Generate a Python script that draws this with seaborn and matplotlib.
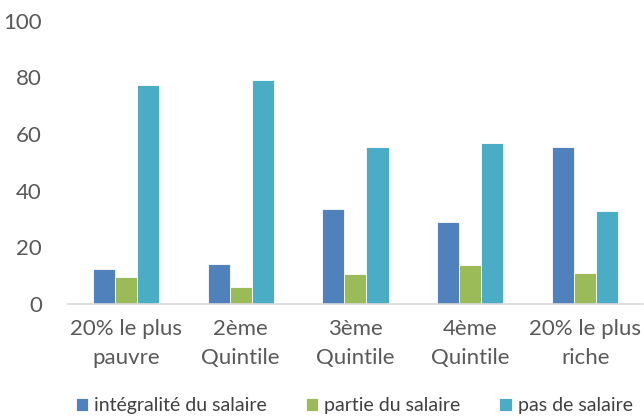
import pandas as pd
import seaborn as sns
import matplotlib.pyplot as plt

# Data
categories = ['20% le plus\npauvre', '2ème\nQuintile', '3ème\nQuintile', '4ème\nQuintile', '20% le plus\nriche']
integralite = [12.5, 14.3, 33.5, 29.1, 55.6]
partie = [9.4, 6.0, 10.5, 13.6, 10.9]
pas_de_salaire = [77.4, 79.1, 55.5, 56.9, 32.9]
series_names = ['intégralité du salaire', 'partie du salaire', 'pas de salaire']
colors = ['#4F81BD', '#9BBB59', '#4BACC6']

rows = []
for name, vals in zip(series_names, [integralite, partie, pas_de_salaire]):
    for cat, v in zip(categories, vals):
        rows.append({'cat': cat, 'serie': name, 'val': v})
df = pd.DataFrame(rows)

sns.set_style('white')
plt.rcParams['font.family'] = ['Lato', 'DejaVu Sans']

fig = plt.figure(figsize=(6.44, 4.17), dpi=100)
ax = fig.add_axes([0.106, 0.271, 0.892, 0.679])

sns.barplot(data=df, x='cat', y='val', hue='serie', palette=colors, saturation=1,
            width=0.575, edgecolor='white', linewidth=0.6, ax=ax, legend=True)

ax.set_ylim(0, 100)
ax.set_yticks(range(0, 101, 20))
ax.set_xlim(-0.5, 4.5)
ax.set_xlabel('')
ax.set_ylabel('')
for s in ['top', 'right', 'left']:
    ax.spines[s].set_visible(False)
ax.spines['bottom'].set_color('#D9D9D9')
ax.spines['bottom'].set_linewidth(1.2)
ax.tick_params(axis='both', length=0, colors='#595959', labelsize=16)
ax.tick_params(axis='x', pad=11)
ax.tick_params(axis='y', pad=19)
for lbl in ax.get_xticklabels():
    lbl.set_linespacing(1.55)

handles, labels = ax.get_legend_handles_labels()
ax.get_legend().remove()
leg = fig.legend(handles, labels, loc='lower center', bbox_to_anchor=(0.55, -0.035),
                 ncol=3, frameon=False, fontsize=14, handlelength=0.65,
                 handleheight=0.65, handletextpad=0.3, columnspacing=2.0)
for t in leg.get_texts():
    t.set_color('#404040')

plt.savefig('out.png', dpi=100)
